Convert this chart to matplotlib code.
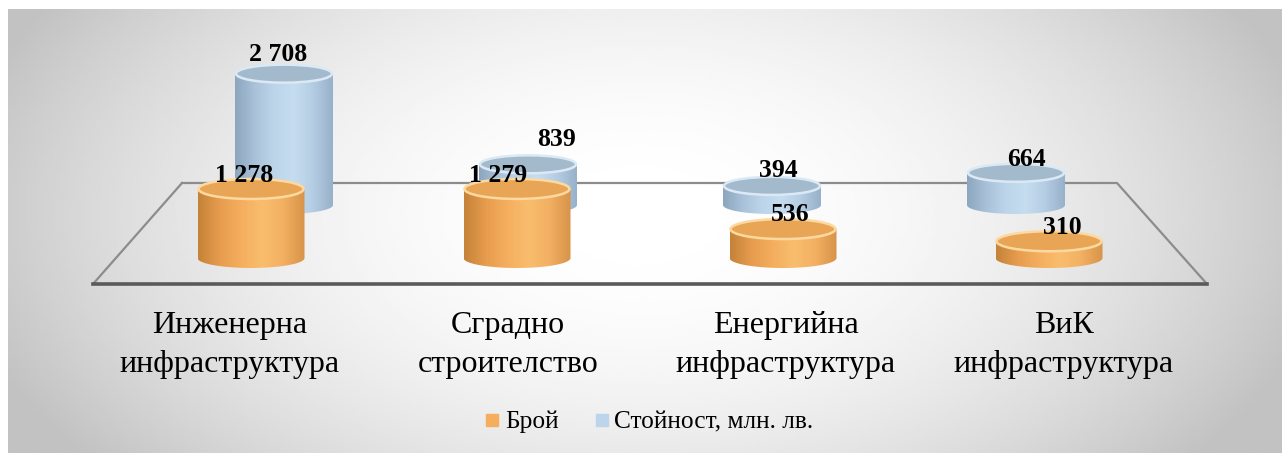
import numpy as np
import matplotlib
matplotlib.use("Agg")
import matplotlib.pyplot as plt
from matplotlib.patches import Polygon, Ellipse
from matplotlib.colors import LinearSegmentedColormap, to_rgb
from matplotlib.lines import Line2D

# Данни
kategorii = ['Инженерна\nинфраструктура', 'Сградно\nстроителство',
             'Енергийна\nинфраструктура', 'ВиК\nинфраструктура']
broy = [1278, 1279, 536, 310]
stoinost = [2708, 839, 394, 664]
serii = ['Брой', 'Стойност, млн. лв.']

# Оформление (в пиксели, оста е 1:1 с картинката)
W, H = 1282, 453
pod = [(182, 183), (1117, 183), (1207, 284), (93, 284)]   # "пода" в перспектива
cx = 650                        # център на перспективата
stapka_oranj, stapka_sin, stapka_etiket = 266, 244, 278
osnova_oranj, osnova_sin = 258, 205
mashtab_oranj, mashtab_sin = 0.054, 0.0485
shir_oranj, shir_sin = 107, 98
elips_oranj, elips_sin = 10, 9
# отмествания на етикетите със стойности
dx_oranj = [-7, -19, 7, 13]
dy_oranj = [16, 16, 17, 16]
dx_sin = [-6, 28, 6, 10]
dy_sin = [22, 27, 18, 16]

oranj_grad = ['#c48338', '#e79c4e', '#f4ae5e', '#f9bd6e', '#f3b062', '#d7944a']
sin_grad = ['#8ca6bf', '#a9c2d9', '#bcd5ea', '#c6ddf0', '#b5cde3', '#97b1ca']

plt.rcParams['font.family'] = ['Liberation Serif', 'DejaVu Serif']

fig = plt.figure(figsize=(W / 100, H / 100), dpi=100)
fig.patch.set_facecolor('white')
ax = fig.add_axes([0, 0, 1, 1])
ax.set_axis_off()

# Фон - радиален градиент
xx, yy = np.meshgrid(np.linspace(8, W, 400), np.linspace(9, H, 160))
r2 = ((xx - 640) / 700) ** 2 + ((yy - 215) / 400) ** 2
fon = 1 - 0.24 * np.clip(r2, 0, 1)
ax.imshow(fon, extent=(8, W, H, 9), cmap='gray', vmin=0, vmax=1,
          aspect='auto', zorder=0, interpolation='bilinear')

# Под
px = [p[0] for p in pod]
py = [p[1] for p in pod]
ax.plot(px[:3], py[:3], color='#8c8c8c', lw=1.6, zorder=1)
ax.plot([px[3], px[0]], [py[3], py[0]], color='#8c8c8c', lw=1.6, zorder=1)
ax.plot([px[2], px[3]], [py[2], py[3]], color='#5a5a5a', lw=2.6, zorder=1)


def cilindar(xc, osnova, h, w, eh, cveta, gore, rub, z):
    vrah = osnova - h
    t = np.linspace(np.pi, 0, 80)
    bx = xc + w / 2 * np.cos(t)
    by = osnova + eh * np.sin(t)
    verts = [(xc - w / 2, vrah)] + list(zip(bx, by)) + [(xc + w / 2, vrah)]
    tyalo = Polygon(verts, closed=True, facecolor='none', edgecolor='none', zorder=z)
    ax.add_patch(tyalo)
    cmap = LinearSegmentedColormap.from_list('c', cveta)
    g = np.linspace(0, 1, 200)[None, :]
    im = ax.imshow(g, extent=(xc - w / 2, xc + w / 2, osnova + eh, vrah), cmap=cmap,
                   aspect='auto', zorder=z, interpolation='bilinear')
    im.set_clip_path(tyalo)
    ax.add_patch(Ellipse((xc, vrah), w - 2, 2 * eh, facecolor=gore, edgecolor=rub,
                         lw=1.8, zorder=z + 0.1))
    return vrah


n = len(kategorii)
vrahove_sin = []
for i, v in enumerate(stoinost):
    x = cx + (i - (n - 1) / 2) * stapka_sin
    vrahove_sin.append((x, cilindar(x, osnova_sin, v * mashtab_sin, shir_sin, elips_sin,
                                    sin_grad, '#a3b9cc', '#dbe9f5', 2)))
vrahove_oranj = []
for i, v in enumerate(broy):
    x = cx + (i - (n - 1) / 2) * stapka_oranj
    vrahove_oranj.append((x, cilindar(x, osnova_oranj, v * mashtab_oranj, shir_oranj, elips_oranj,
                                      oranj_grad, '#e9a556', '#fcd9a0', 4)))


def fmt(v):
    return f"{v:,}".replace(',', ' ')


for i, v in enumerate(stoinost):
    x, y = vrahove_sin[i]
    ax.text(x + dx_sin[i], y - dy_sin[i] + 9, fmt(v), ha='center', va='baseline',
            fontsize=18.5, fontweight='bold', zorder=10)
for i, v in enumerate(broy):
    x, y = vrahove_oranj[i]
    ax.text(x + dx_oranj[i], y - dy_oranj[i] + 9, fmt(v), ha='center', va='baseline',
            fontsize=18.5, fontweight='bold', zorder=10)

# Категории (два реда)
for i, k in enumerate(kategorii):
    x = cx + (i - (n - 1) / 2) * stapka_etiket - 3
    red1, red2 = k.split('\n')
    ax.text(x, 333, red1, ha='center', va='baseline', fontsize=23, zorder=10)
    ax.text(x, 372, red2, ha='center', va='baseline', fontsize=23, zorder=10)

# Легенда
handles = [Line2D([], [], ls='none', marker='s', markersize=8.6, color=to_rgb(oranj_grad[2])),
           Line2D([], [], ls='none', marker='s', markersize=8.6, color=to_rgb(sin_grad[2]))]
ax.legend(handles, serii, loc='center', bbox_to_anchor=(649 / W, 1 - 422 / H), ncol=2,
          frameon=False, fontsize=18.3, handlelength=0.6, handletextpad=0.2,
          columnspacing=1.4, borderpad=0)

ax.set_xlim(0, W)
ax.set_ylim(H, 0)
fig.savefig('out.png', dpi=100, facecolor=fig.get_facecolor())
